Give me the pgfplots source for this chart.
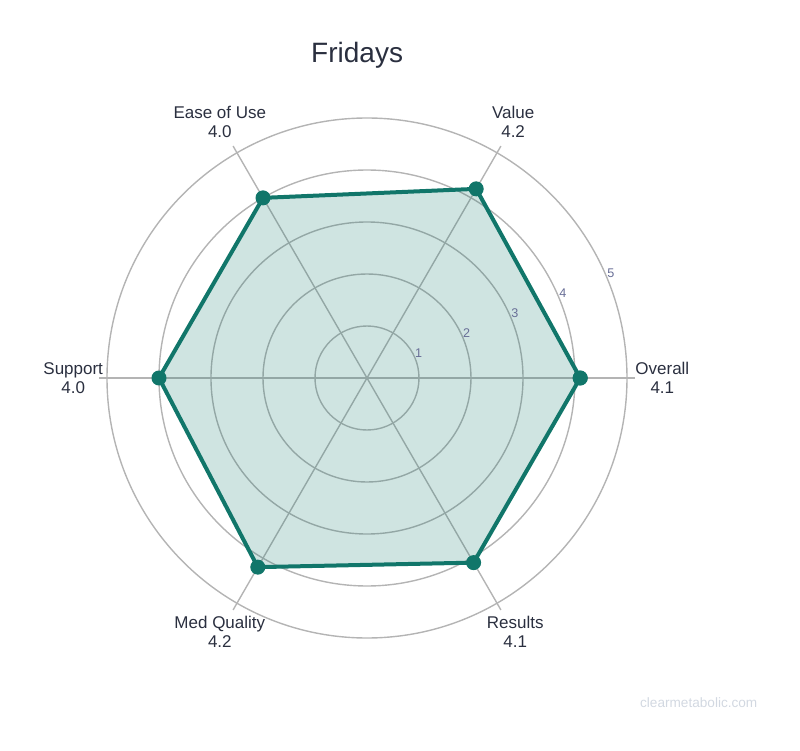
\documentclass[border=0pt]{standalone}
\usepackage{pgfplots}
\pgfplotsset{compat=1.18}
\usepackage{fontspec}
\setmainfont{Liberation Sans}
\definecolor{linec}{RGB}{17,118,106}
\definecolor{gridc}{RGB}{180,180,180}
\definecolor{labc}{RGB}{42,47,63}
\definecolor{tickc}{RGB}{104,110,150}
\definecolor{markc}{RGB}{210,216,225}
\begin{document}
\begin{tikzpicture}
\useasboundingbox (-183.5pt,-186.5pt) rectangle (216.5pt,189pt);
\begin{axis}[
    x=26pt, y=26pt,
    xmin=-7, xmax=7, ymin=-7, ymax=7,
    hide axis, clip=false,
    anchor=center, at={(0pt,0pt)},
]
% grid
\draw[gridc, line width=0.7pt] (axis cs:0,0) circle[radius=26pt];
\draw[gridc, line width=0.7pt] (axis cs:0,0) circle[radius=52pt];
\draw[gridc, line width=0.7pt] (axis cs:0,0) circle[radius=78pt];
\draw[gridc, line width=0.7pt] (axis cs:0,0) circle[radius=104pt];
\draw[gridc, line width=0.7pt] (axis cs:0,0) circle[radius=130pt];
\draw[gridc, line width=0.7pt] (axis cs:-5.15,0) -- (axis cs:5.15,0);
\draw[gridc, line width=0.7pt] (axis cs:-2.575,-4.460) -- (axis cs:2.575,4.460);
\draw[gridc, line width=0.7pt] (axis cs:-2.575,4.460) -- (axis cs:2.575,-4.460);
% series
\addplot[draw=none, fill=linec, fill opacity=0.2, data cs=polar] coordinates {
    (0,4.1) (60,4.2) (120,4.0) (180,4.0) (240,4.2) (300,4.1) (360,4.1)
};
\addplot[linec, line width=2pt, line join=round, mark=*, mark size=3.5pt,
    mark options={fill=linec, draw=linec, line width=0.5pt}, data cs=polar] coordinates {
    (0,4.1) (60,4.2) (120,4.0) (180,4.0) (240,4.2) (300,4.1) (360,4.1)
};
% radial tick labels
\node[tickc, font=\fontsize{6.3}{7.5}\selectfont] at (axis cs:0.994,0.483) {1};
\node[tickc, font=\fontsize{6.3}{7.5}\selectfont] at (axis cs:1.918,0.865) {2};
\node[tickc, font=\fontsize{6.3}{7.5}\selectfont] at (axis cs:2.842,1.248) {3};
\node[tickc, font=\fontsize{6.3}{7.5}\selectfont] at (axis cs:3.766,1.631) {4};
\node[tickc, font=\fontsize{6.3}{7.5}\selectfont] at (axis cs:4.690,2.014) {5};
% category labels
\node[labc, align=center, font=\fontsize{8.5}{9.5}\selectfont] at (axis cs:5.68,0) {Overall\\4.1};
\node[labc, align=center, font=\fontsize{8.5}{9.5}\selectfont] at (axis cs:2.81,4.92) {Value\\4.2};
\node[labc, align=center, font=\fontsize{8.5}{9.5}\selectfont] at (axis cs:-2.83,4.92) {Ease of Use\\4.0};
\node[labc, align=center, font=\fontsize{8.5}{9.5}\selectfont] at (axis cs:-5.65,0) {Support\\4.0};
\node[labc, align=center, font=\fontsize{8.5}{9.5}\selectfont] at (axis cs:-2.83,-4.88) {Med Quality\\4.2};
\node[labc, align=center, font=\fontsize{8.5}{9.5}\selectfont] at (axis cs:2.85,-4.88) {Results\\4.1};
% title and watermark
\node[labc, anchor=base, font=\fontsize{14}{16}\selectfont] at (axis cs:-0.19,6.06) {Fridays};
\node[markc, anchor=base, font=\fontsize{6.8}{8}\selectfont] at (axis cs:6.38,-6.33) {clearmetabolic.com};
\end{axis}
\end{tikzpicture}
\end{document}
